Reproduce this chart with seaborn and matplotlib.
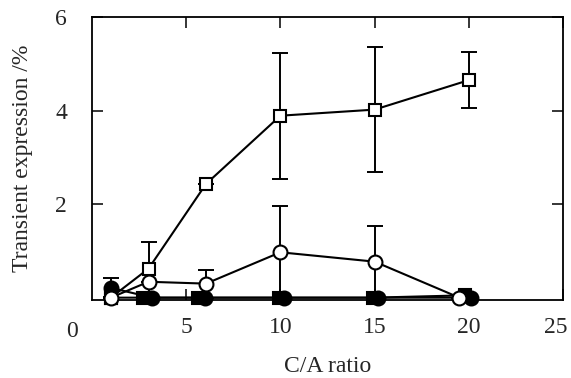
import numpy as np
import pandas as pd
import matplotlib
matplotlib.use("Agg")
import matplotlib.pyplot as plt
import matplotlib.transforms as mtransforms
import seaborn as sns

# ---- data ----
open_sq_x = [1.0, 3.0, 6.05, 10.0, 15.0, 20.0]
open_sq_y = [0.0, 0.62, 2.43, 3.89, 4.02, 4.65]
open_sq_err = [0.0, 0.56, 0.0, 1.35, 1.33, 0.60]

open_ci_x = [1.0, 3.0, 6.05, 10.0, 15.0, 19.5]
open_ci_y = [0.0, 0.34, 0.30, 0.97, 0.77, 0.0]
open_ci_err = [0.0, 0.0, 0.30, 1.00, 0.77, 0.0]

fill_sq_x = [1.0, 2.7, 5.6, 9.9, 14.9, 19.8]
fill_sq_y = [0.0, 0.0, 0.0, 0.0, 0.0, 0.05]

fill_ci_x = [1.0, 3.2, 6.0, 10.2, 15.2, 20.1]
fill_ci_y = [0.21, 0.0, 0.0, 0.0, 0.0, 0.0]
fill_ci_err = [0.20, 0.0, 0.0, 0.0, 0.0, 0.0]

x_ticks = [5, 10, 15, 20, 25]
y_ticks = [2, 4, 6]

sns.set_style("ticks")
plt.rcParams['font.family'] = ['Liberation Serif', 'DejaVu Serif']
plt.rcParams['font.size'] = 17

fig = plt.figure(figsize=(5.71, 3.78), dpi=100)
ax = fig.add_axes([92/571, 1-300/378, (563-92)/571, (300-17)/378])

series = [
    ("fill_sq", fill_sq_x, fill_sq_y, None, "s", "black", 2),
    ("open_sq", open_sq_x, open_sq_y, open_sq_err, "s", "white", 3),
    ("fill_ci", fill_ci_x, fill_ci_y, fill_ci_err, "o", "black", 4),
    ("open_ci", open_ci_x, open_ci_y, open_ci_err, "o", "white", 5),
]

for name, xs, ys, errs, mk, fc, z in series:
    df = pd.DataFrame({"x": xs, "y": ys})
    if errs is not None:
        ax.errorbar(xs, ys, yerr=errs, fmt="none", ecolor="black",
                    elinewidth=1.4, capsize=5.5, capthick=1.4, zorder=z - 0.5,
                    clip_on=False)
    sns.lineplot(data=df, x="x", y="y", ax=ax, color="black", linewidth=1.5,
                 marker=mk, markersize=10 if mk == "o" else 9,
                 markerfacecolor=fc, markeredgecolor="black",
                 markeredgewidth=1.5, sort=False, zorder=z, clip_on=False,
                 legend=False)

ax.set_xlim(0, 25)
ax.set_ylim(-0.05, 6)
ax.set_xticks(x_ticks)
ax.set_xticklabels([str(t) for t in x_ticks])
ax.set_yticks(y_ticks)
ax.set_yticklabels([str(t) for t in y_ticks])
ax.tick_params(direction="in", length=8, width=1.3, top=True, right=True)
ax.tick_params(axis="y", pad=18)
ax.tick_params(axis="x", pad=12)
for sp in ax.spines.values():
    sp.set_linewidth(1.3)
    sp.set_visible(True)
    sp.set_color("black")

# shift last x tick label slightly left so it stays in the figure
last = ax.get_xticklabels()[-1]
last.set_transform(last.get_transform() +
                   mtransforms.ScaledTranslation(-7/100, 0, fig.dpi_scale_trans))

ax.text(-0.043, -0.11, "0", transform=ax.transAxes, ha="center", va="center",
        fontsize=17)
ax.set_xlabel("C/A ratio", fontsize=17, labelpad=13)
ax.set_ylabel("Transient expression /%", fontsize=17, labelpad=16)

fig.savefig("out.png", dpi=100)
